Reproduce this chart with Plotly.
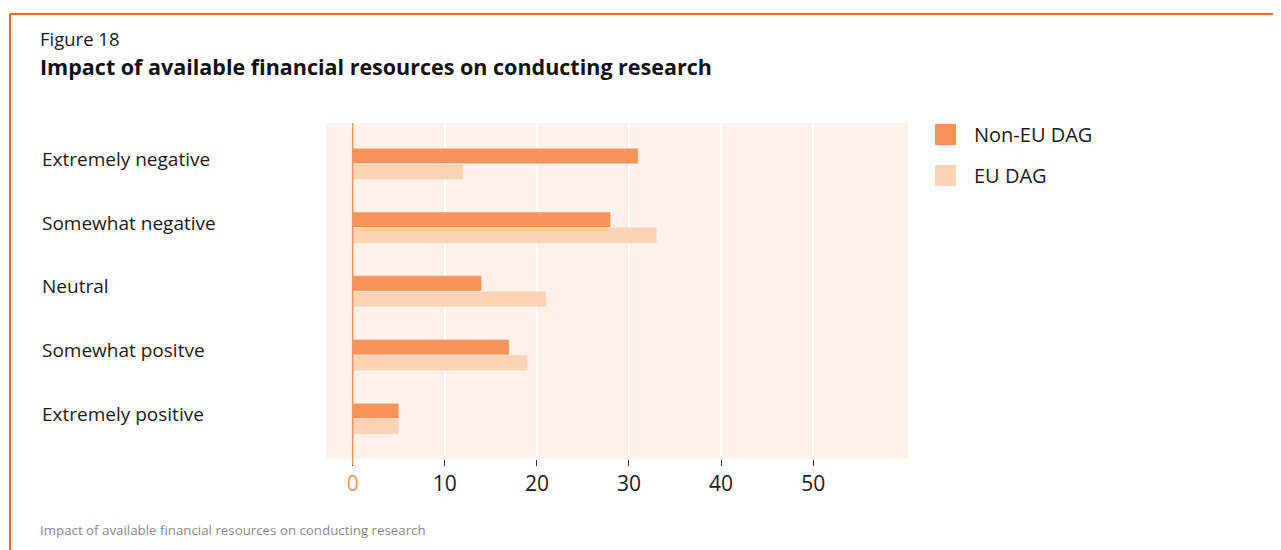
import plotly.graph_objects as go

categories = ["Extremely negative", "Somewhat negative", "Neutral", "Somewhat positve", "Extremely positive"]
non_eu = [31, 28, 14, 17, 5]
eu = [12, 33, 21, 19, 5]
series_names = ["Non-EU DAG", "EU DAG"]
tick_vals = [0, 10, 20, 30, 40, 50]
tick_labels = ["0", "10", "20", "30", "40", "50"]

C_DARK = "#F4935A"
C_LIGHT = "#FCD4B5"
C_BG = "#FDF2EA"
C_BORDER = "#EE6A2A"
FONT = "Open Sans"

OFF = 8  # page body margin offset
W, H = 1281 - OFF, 550 - OFF
# reference pixel coords of plot area
PL, PR, PT, PB = 326, 908, 123, 459
L, T = PL - OFF, PT - OFF
R, B = W - (PR - OFF), H - (PB - OFF)
PW, PH = PR - PL, PB - PT

def px_x(px):
    return (px - PL) / PW

def px_y(py):
    return (PB - py) / PH

fig = go.Figure()
fig.add_trace(go.Bar(y=categories, x=non_eu, orientation="h", marker_color=C_DARK,
                     name=series_names[0], showlegend=False, legendgroup="a"))
fig.add_trace(go.Bar(y=categories, x=eu, orientation="h", marker_color=C_LIGHT,
                     name=series_names[1], showlegend=False, legendgroup="b"))
# legend proxies with large square swatches
for nm, col, grp in [(series_names[0], C_DARK, "a"), (series_names[1], C_LIGHT, "b")]:
    fig.add_trace(go.Scatter(x=[None], y=[None], mode="markers", name=nm, legendgroup=grp,
                             marker=dict(symbol="square", size=16, color=col,
                                         line=dict(color=col, width=5))))

ticktext = [f"<span style='color:{C_DARK}'>{t}</span>" if v == 0 else t
            for v, t in zip(tick_vals, tick_labels)]

fig.update_layout(
    width=W, height=H,
    margin=dict(l=L, r=R, t=T, b=B),
    paper_bgcolor="white", plot_bgcolor=C_BG,
    barmode="group", bargap=0.514, bargroupgap=0,
    font=dict(family=FONT, color="#1a1a1a"),
    showlegend=True,
    legend=dict(x=px_x(917), y=px_y(115), xanchor="left", yanchor="top",
                font=dict(size=20, family=FONT, color="#1a1a1a"),
                traceorder="grouped", tracegroupgap=12, itemwidth=47,
                bgcolor="rgba(0,0,0,0)"),
    xaxis=dict(range=[-2.9, 60.3], tickvals=tick_vals, ticktext=ticktext,
               showgrid=True, gridcolor="white", gridwidth=1.5,
               zeroline=False, ticks="outside", ticklen=6, tickcolor="#333",
               tickwidth=1, tickfont=dict(size=21, family=FONT, color="#1a1a1a"),
               showline=False, fixedrange=True),
    yaxis=dict(categoryorder="array", categoryarray=categories,
               range=[4.63, -0.64], showticklabels=False, showgrid=False,
               zeroline=False, ticks="", fixedrange=True),
)

# orange zero line extending slightly below the plot
fig.add_shape(type="line", xref="x", yref="paper", x0=0, x1=0, y0=px_y(465), y1=1,
              line=dict(color=C_DARK, width=1.5), layer="above")

# frame border (top and left)
fig.add_shape(type="line", xref="paper", yref="paper", x0=px_x(10), x1=px_x(1300),
              y0=px_y(14), y1=px_y(14), line=dict(color=C_BORDER, width=2))
fig.add_shape(type="line", xref="paper", yref="paper", x0=px_x(10), x1=px_x(10),
              y0=px_y(14), y1=px_y(570), line=dict(color=C_BORDER, width=2))

# category labels (left aligned)
for c in categories:
    fig.add_annotation(x=px_x(40), y=c, xref="paper", yref="y", text=c, showarrow=False,
                       xanchor="left", yanchor="middle", yshift=5,
                       font=dict(size=19, family=FONT, color="#1a1a1a"))

fig.add_annotation(x=px_x(38), y=px_y(38), xref="paper", yref="paper", text="Figure 18",
                   showarrow=False, xanchor="left", yanchor="middle",
                   font=dict(size=18.5, family=FONT, color="#1a1a1a"))
fig.add_annotation(x=px_x(38), y=px_y(67), xref="paper", yref="paper",
                   text="<b>Impact of available financial resources on conducting research</b>",
                   showarrow=False, xanchor="left", yanchor="middle",
                   font=dict(size=21.5, family=FONT, color="#111"))
fig.add_annotation(x=px_x(38), y=px_y(530), xref="paper", yref="paper",
                   text="Impact of available financial resources on conducting research",
                   showarrow=False, xanchor="left", yanchor="middle",
                   font=dict(size=13.3, family=FONT, color="#8a8a8a"))

fig.write_html("out.html")
